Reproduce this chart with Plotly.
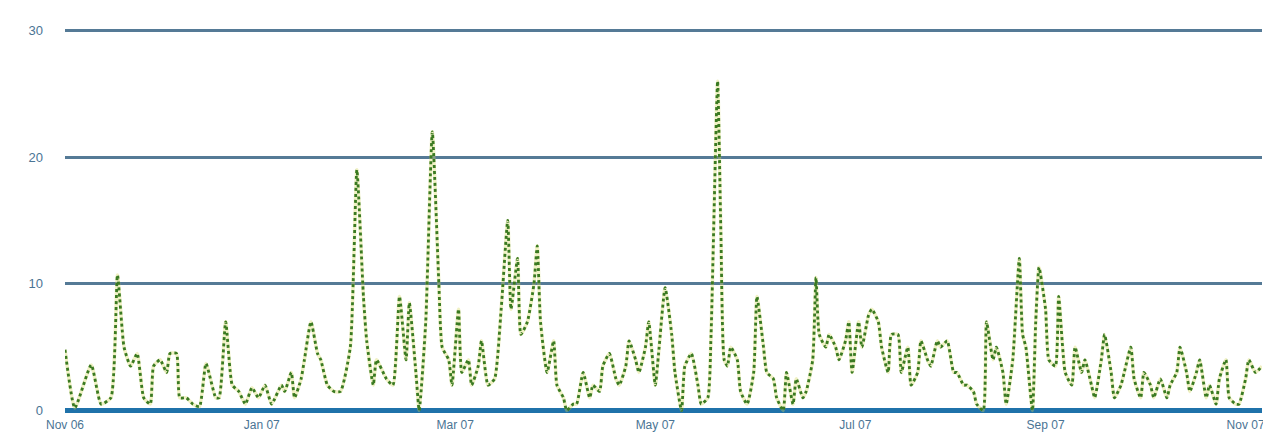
import plotly.graph_objects as go

# day offset from the first sample, and the value
days = [0, 3, 8, 11, 14, 16, 18, 20, 22, 24, 26, 27, 29, 31, 32, 34, 35, 37, 39, 41,
        43, 46, 47, 49, 51, 53, 55, 57, 59, 61, 63, 66, 67, 69, 70, 72, 73, 75, 77, 78,
        80, 82, 84, 87, 89, 91, 92, 94, 95, 98, 100, 102, 104, 105, 107, 108, 110, 112, 114, 115,
        117, 118, 120, 121, 123, 124, 126, 127, 129, 131, 133, 135, 136, 138, 139, 141, 143, 144, 145, 147,
        149, 150, 152, 153, 155, 156, 158, 160, 161, 163, 164, 166, 168, 169, 171, 172, 174, 175, 177, 178,
        180, 181, 183, 185, 186, 188, 189, 191, 193, 194, 196, 197, 199, 200, 201, 202, 203, 205, 206, 208,
        210, 211, 213, 214, 216, 217, 219, 220, 222, 223, 225, 226, 228, 229, 230, 232, 233, 235, 236, 238,
        239, 240, 242, 243, 245, 246, 248, 249, 251, 252, 254, 255, 257, 258, 260, 261, 263, 264, 266, 267,
        269, 271, 272, 274, 275, 277, 278, 280, 281, 283, 284, 286, 287, 289, 291, 292, 293, 295, 296, 297,
        299, 300, 302, 303, 305, 307, 308, 310, 311, 313, 314, 316, 317, 319, 320, 322, 323, 325, 326, 328,
        329, 331, 332, 334, 336, 337, 339, 340, 342, 343, 345, 346, 348, 349, 351, 352, 354, 355, 357, 358,
        360, 361, 363, 365]
values = [4.8, 0.2, 3.6, 0.5, 1.0, 10.7, 5.0, 3.5, 4.5, 1.0, 0.5, 3.5, 4.0, 3.0, 4.5, 4.5, 1.0, 1.0, 0.5, 0.3,
          3.7, 1.0, 1.0, 7.0, 2.0, 1.5, 0.5, 1.8, 1.0, 2.0, 0.5, 2.0, 1.5, 3.0, 1.0, 2.5, 4.0, 7.0, 4.5, 4.0,
          2.0, 1.5, 1.5, 5.0, 19.0, 9.0, 5.5, 2.0, 4.0, 2.5, 2.0, 9.0, 4.0, 8.5, 3.0, 0.0, 7.0, 22.0, 10.0, 5.0,
          4.0, 2.0, 8.0, 3.0, 4.0, 2.0, 3.5, 5.5, 2.0, 2.5, 8.0, 15.0, 8.0, 12.0, 6.0, 7.0, 10.0, 13.0, 7.0, 3.0,
          5.5, 2.0, 1.0, 0.0, 0.5, 0.5, 3.0, 1.0, 2.0, 1.5, 3.5, 4.5, 2.5, 2.0, 3.5, 5.5, 4.0, 3.0, 5.0, 7.0,
          2.0, 4.5, 9.7, 6.0, 3.0, 0.0, 3.5, 4.5, 2.0, 0.5, 1.0, 6.0, 26.0, 14.0, 4.0, 3.5, 5.0, 4.0, 1.5, 0.5,
          3.0, 9.0, 5.0, 3.0, 2.5, 1.0, 0.0, 3.0, 0.5, 2.5, 1.0, 1.5, 4.0, 10.5, 6.0, 5.0, 6.0, 5.0, 4.0, 5.5,
          7.0, 3.0, 7.0, 5.0, 7.5, 8.0, 7.0, 5.0, 3.0, 6.0, 6.0, 3.0, 5.0, 2.0, 3.0, 5.5, 4.0, 3.5, 5.5, 5.0,
          5.5, 3.0, 3.0, 2.0, 2.0, 1.5, 0.5, 0.0, 7.0, 4.0, 5.0, 3.0, 0.5, 4.0, 12.0, 6.0, 5.0, 0.0, 7.0, 11.3,
          8.0, 4.0, 3.5, 9.0, 3.0, 2.0, 5.0, 3.0, 4.0, 2.0, 1.0, 4.0, 6.0, 3.0, 1.0, 2.0, 3.0, 5.0, 2.5, 1.0,
          3.0, 2.0, 1.0, 2.5, 1.0, 2.0, 3.0, 5.0, 3.0, 1.5, 3.0, 4.0, 1.0, 2.0, 0.5, 2.5, 4.0, 1.0, 0.5, 0.5,
          2.5, 4.0, 3.0, 3.5]

tick_days = [0, 60, 119, 180, 241, 299, 360]
tick_labels = ["Nov 06", "Jan 07", "Mar 07", "May 07", "Jul 07", "Sep 07", "Nov 07"]
y_ticks = [0, 10, 20, 30]
y_labels = ["0", "10", "20", "30"]

fig = go.Figure()
fig.add_trace(go.Scatter(
    x=days, y=values, mode="lines",
    line=dict(color="#d6d85a", width=3.5, shape="spline", smoothing=0.5),
    opacity=0.35, hoverinfo="skip", showlegend=False))
fig.add_trace(go.Scatter(
    x=days, y=values, mode="lines",
    line=dict(color="#3a7a22", width=2.8, dash="dot", shape="spline", smoothing=0.5),
    showlegend=False))

fig.update_layout(
    width=1263, height=428,
    margin=dict(l=57, r=9, t=20, b=23, autoexpand=False),
    paper_bgcolor="white", plot_bgcolor="white",
    font=dict(family="Liberation Sans, Arial, sans-serif", size=12, color="#4a7494"),
    xaxis=dict(range=[0, 365], tickvals=tick_days, ticktext=tick_labels,
               showgrid=False, zeroline=False, showline=False, ticks="",
               automargin=False, ticklabelstandoff=3,
               tickfont=dict(size=12, color="#4a7494")),
    yaxis=dict(range=[-0.2, 30.2], tickvals=y_ticks, ticktext=y_labels,
               showgrid=True, gridcolor="#557a96", gridwidth=3,
               zeroline=True, zerolinecolor="#1f72aa", zerolinewidth=5,
               showline=False, ticks="", ticklabelstandoff=21, automargin=False,
               tickfont=dict(size=13, color="#4a7494")),
)

fig.write_html("out.html")
